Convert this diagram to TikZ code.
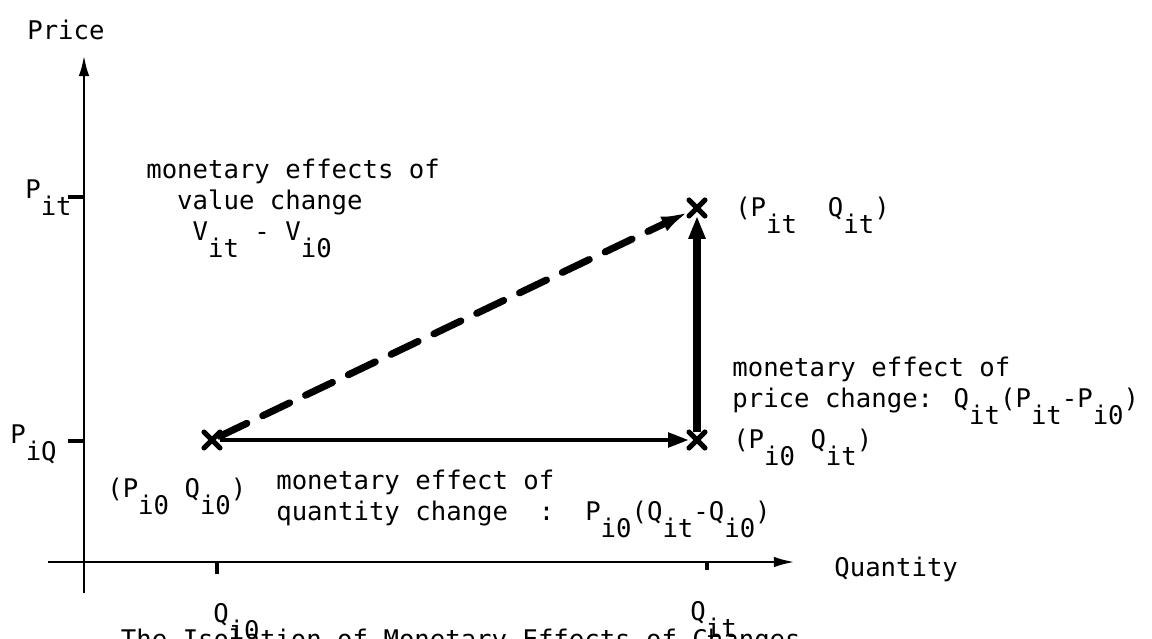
\documentclass[tikz,border=0pt]{standalone}
\usepackage{fontspec}
\setmainfont{DejaVu Sans Mono}
\usetikzlibrary{positioning, arrows.meta, shapes.misc}

\newcommand{\lo}[1]{\raisebox{-10pt}[0pt][0pt]{#1}}

\begin{document}
\begin{tikzpicture}[x=0.2mm, y=-0.2mm,
      every node/.style={font=\fontsize{14.6}{17.6}\selectfont, inner sep=0pt},
      txt/.style={anchor=base west},
      axisline/.style={line width=1.6pt, -{Latex[length=12pt, width=6pt]}},
      tickmark/.style={line width=2.6pt},
      ptmark/.style={cross out, draw, line width=3pt, line cap=round, minimum size=6pt},
      effect/.style={line width=2.8pt, -{Triangle[length=12pt, width=8pt]}},
      effectv/.style={line width=4pt, -{Triangle[length=13pt, width=9pt]}},
      effectd/.style={line width=4pt, line cap=round, dash pattern=on 17pt off 10pt, -{Latex[length=16pt, width=9pt]}}]

      \useasboundingbox (0,0) rectangle (1152,639);

      % Axes
      \coordinate (xstart) at (48,562);
      \coordinate (xend) at (795,562);
      \coordinate (ystart) at (84,593);
      \coordinate (yend) at (84,55);
      \draw[axisline] (xstart) -- (xend);
      \draw[axisline] (ystart) -- (yend);
      \node[txt] (price) at (27,40) {Price};
      \node[txt] (quantity) at (834,576) {Quantity};

      % Ticks
      \coordinate (tpit) at (84,197);
      \coordinate (tpiq) at (84,441);
      \coordinate (tqio) at (217,562);
      \coordinate (tqit) at (707,562);
      \draw[tickmark] (tpit) -- ++(-16,0);
      \draw[tickmark] (tpiq) -- ++(-16,0);
      \draw[tickmark] (tqio) -- ++(0,12);
      \draw[tickmark] (tqit) -- ++(0,8);
      \node[txt] (lpit) at (25,198) {P\lo{it}};
      \node[txt] (lpiq) at (10,443) {P\lo{iQ}};
      \node[txt] (lqio) at (213,622) {Q\lo{i0}};
      \node[txt] (lqit) at (690,620) {Q\lo{it}};

      % Points
      \node[ptmark] (A) at (212,440) {};
      \node[ptmark] (B) at (697,440) {};
      \node[ptmark] (C) at (697,208) {};

      % Effects
      \draw[effectd] (A) -- (C);
      \draw[effect] (A) -- (B);
      \draw[effectv] (B) -- (C);

      % Point labels
      \node[right=6mm of C] (lc) {(P\lo{it}~~Q\lo{it})};
      \node[right=5.6mm of B] (lb) {(P\lo{i0} Q\lo{it})};
      \node[txt] (la) at (107,497) {(P\lo{i0} Q\lo{i0})};

      % Effect labels (base = last line)
      \node[txt, align=left] (lval) at (146,240) {monetary effects of\\\phantom{va}value change\\\phantom{val}V\lo{it} - V\lo{i0}};
      \node[txt, align=left] (lprice) at (732,407) {monetary effect of\\price change: Q\lo{it}(P\lo{it}-P\lo{i0})};
      \node[txt, align=left] (lqty) at (276,520) {monetary effect of\\quantity change~~:~~P\lo{i0}(Q\lo{it}-Q\lo{i0})};

      % Caption, cut by the page edge
      \begin{scope}
        \clip (0,0) rectangle (1152,639);
        \node[txt, anchor=base east] (caption) at (801,648) {The Isolation of Monetary Effects of Changes};
      \end{scope}
    \end{tikzpicture}
\end{document}
